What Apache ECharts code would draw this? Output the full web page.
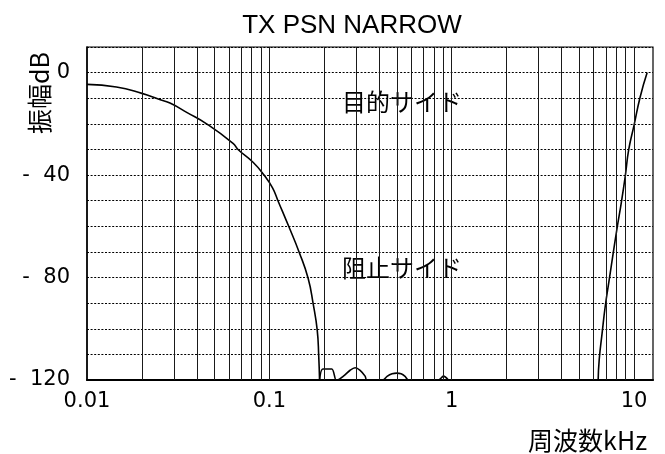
<!DOCTYPE html>
<html>
<head>
<meta charset="utf-8">
<script src="https://cdn.jsdelivr.net/npm/echarts@6/dist/echarts.min.js"></script>
<style>
  html, body { margin: 0; padding: 0; background: #fff; }
  #chart { width: 665px; height: 454px; }
</style>
</head>
<body>
<div id="chart"></div>
<script>
// Passband roll-off of the narrow TX filter (kHz, dB)
const rollFreq = [0.01, 0.0145, 0.02, 0.0248, 0.0285, 0.0354, 0.0455, 0.0632, 0.0673, 0.0814, 0.0935, 0.1041, 0.1116, 0.128, 0.1455, 0.163, 0.174, 0.183, 0.1865, 0.1885];
const rollDb   = [-4.6, -5.6, -8.1, -10.4, -11.9, -15.6, -20.1, -27.6, -30.0, -35.0, -40.0, -45.0, -50.1, -60.2, -70, -80.2, -90.4, -100.5, -110.5, -120];

// Stopband ripples just above the floor
const rippleFreq = [0.1885, 0.1963, 0.220, 0.2322, 0.236, 0.2547, 0.2772, 0.2952, 0.3145, 0.335, 0.342,
                    0.419, 0.442, 0.471, 0.500, 0.528, 0.555, 0.579, 0.845, 0.901, 0.959];
const rippleDb   = [-120, -115.7, -115.7, -120, -120, -118.5, -116.2, -115.2, -116.2, -118.5, -120,
                    -120, -118.6, -117.6, -117.3, -117.6, -118.6, -120, -120, -118.5, -120];

// Upper-side response rising back toward 0 dB
const highFreq = [6.355, 6.44, 6.68, 6.94, 7.30, 7.68, 8.08, 8.50, 8.94, 9.35, 10.0, 10.80, 11.80];
const highDb   = [-120, -112, -101.7, -91.5, -81, -70.6, -60.4, -51, -40.6, -30, -20.5, -9.5, 0];

// Log-paper vertical rulings and the labelled decades
const gridFreqs = [0.02, 0.03, 0.04, 0.05, 0.06, 0.07, 0.08, 0.09, 0.1,
                   0.2, 0.3, 0.4, 0.5, 0.6, 0.7, 0.8, 0.9, 1,
                   2, 3, 4, 5, 6, 7, 8, 9, 10];
const xTickLabels = ['0.01', '0.1', '1', '10'];
const yLabelValues = [0, -40, -80, -120];

const chart = echarts.init(document.getElementById('chart'), null, { renderer: 'canvas' });

const pairs = (xs, ys) => xs.map((x, i) => [x, ys[i]]);
const numFont = 'DejaVu Sans';
const jpFont = '"Noto Sans CJK JP", sans-serif';
const curveStyle = { color: '#000', width: 1.6 };

chart.setOption({
  animation: false,
  backgroundColor: '#fff',
  title: {
    text: 'TX PSN NARROW',
    left: 347, top: 8, textAlign: 'center',
    textStyle: { fontFamily: 'Liberation Sans', fontSize: 26, fontWeight: 'normal', color: '#000' }
  },
  grid: {
    left: 87, right: 12, top: 47, bottom: 74,
    show: true, borderColor: '#000', borderWidth: 1.2, backgroundColor: 'transparent'
  },
  xAxis: {
    type: 'log', logBase: 10, min: 0.01, max: 12.7, interval: 1,
    axisLine: { show: true, onZero: false, lineStyle: { color: '#000', width: 2.2 } },
    axisTick: { show: false },
    splitLine: { show: false },
    minorTick: { show: false },
    axisLabel: {
      margin: 11,
      fontFamily: numFont, fontSize: 21, color: '#000',
      showMaxLabel: false,
      formatter: function (v) {
        const e = Math.log10(v);
        const k = Math.round(e);
        if (Math.abs(e - k) > 1e-6) return '';
        return xTickLabels[k + 2] || '';
      }
    }
  },
  yAxis: {
    type: 'value', min: -120, max: 10, interval: 10,
    axisLine: { show: true, lineStyle: { color: '#000', width: 1.5 } },
    axisTick: { show: false },
    splitLine: { show: true, lineStyle: { color: '#000', width: 1, type: [2, 1.6] } },
    axisLabel: {
      margin: 17,
      fontFamily: numFont, fontSize: 21, color: '#000',
      formatter: function (v) {
        if (yLabelValues.indexOf(v) < 0) return '';
        return v === 0 ? '0' : '-  ' + Math.abs(v);
      }
    }
  },
  series: [
    {
      type: 'line', name: 'grid', data: [], silent: true,
      markLine: {
        silent: true, symbol: ['none', 'none'], label: { show: false },
        lineStyle: { color: '#1a1a1a', width: 1, type: 'solid' },
        emphasis: { disabled: true },
        data: gridFreqs.map(f => ({ xAxis: f }))
      }
    },
    {
      type: 'line', name: 'rolloff', data: pairs(rollFreq, rollDb),
      showSymbol: false, smooth: 0.5,
      lineStyle: curveStyle
    },
    {
      type: 'line', name: 'ripple', data: pairs(rippleFreq, rippleDb),
      showSymbol: false, smooth: 0.3,
      lineStyle: curveStyle
    },
    {
      type: 'line', name: 'high', data: pairs(highFreq, highDb),
      showSymbol: false, smooth: 0.5,
      lineStyle: curveStyle
    }
  ],
  graphic: [
    {
      type: 'text', left: 342, top: 90,
      style: { text: '目的サイド', font: '24px ' + jpFont, fill: '#000' }
    },
    {
      type: 'text', left: 342, top: 256,
      style: { text: '阻止サイド', font: '24px ' + jpFont, fill: '#000' }
    },
    {
      type: 'text', x: 39, y: 93, rotation: Math.PI / 2,
      style: { text: '振幅dB', font: '25px ' + jpFont, fill: '#000', align: 'center', verticalAlign: 'middle' }
    },
    {
      type: 'text', x: 647, y: 440,
      style: { text: '周波数kHz', font: '25px ' + jpFont, fill: '#000', align: 'right', verticalAlign: 'middle' }
    }
  ]
});
</script>
</body>
</html>
